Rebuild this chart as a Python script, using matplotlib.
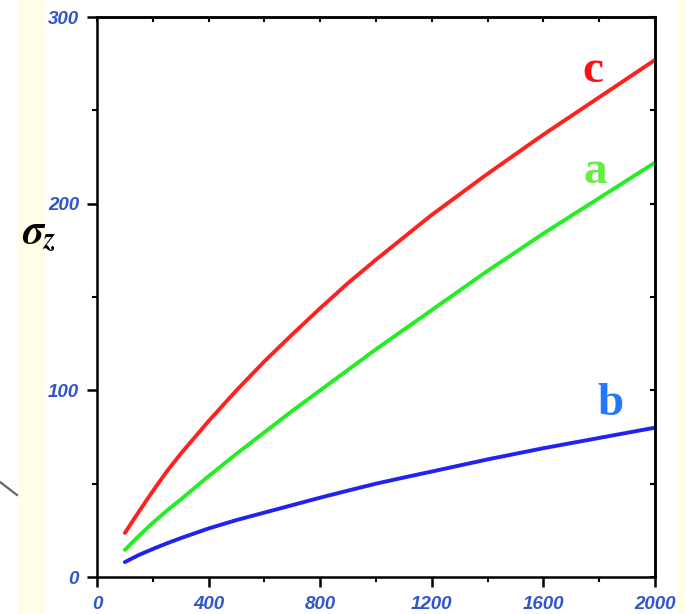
import matplotlib.pyplot as plt
from matplotlib.lines import Line2D
from matplotlib.patches import Rectangle
from matplotlib.ticker import MultipleLocator

plt.rcParams['mathtext.fontset'] = 'stix'

distance = [100, 150, 200, 250, 300, 400, 500, 600, 700, 800, 900, 1000, 1100, 1200,
            1400, 1600, 1800, 2000]
sigma_c = [23.6, 35, 46, 56.5, 66, 83.5, 100, 115.5, 130, 144, 157.5, 170, 182, 194,
           216, 237, 257, 277]
sigma_a = [14.5, 22, 29, 35.5, 41.5, 54, 66, 77.5, 89, 100, 111, 122, 132.5, 143,
           164, 184, 203, 222]
sigma_b = [8, 11.8, 15, 18, 20.8, 26, 30.5, 34.5, 38.5, 42.5, 46.3, 50, 53.3, 56.5,
           63, 69, 74.5, 80]

curve_labels = ['c', 'a', 'b']
curve_colors = ['#ff2020', '#22ee22', '#2222ee']
label_colors = ['#ff1010', '#66ee44', '#2277ff']
label_pos = [(1778, 265), (1785, 211), (1839, 87)]

W, H = 685, 614
fig = plt.figure(figsize=(W / 100, H / 100), dpi=100)
fig.patch.set_facecolor('white')

# cream strips of the scanned page
fig.patches.append(Rectangle((18 / W, 0), 27 / W, 1, transform=fig.transFigure,
                             facecolor='#fffde6', edgecolor='none', zorder=-1))
fig.patches.append(Rectangle((677 / W, 0), 8 / W, 1, transform=fig.transFigure,
                             facecolor='#fffde6', edgecolor='none', zorder=-1))
fig.lines.append(Line2D([0, 17 / W], [1 - 482 / H, 1 - 495 / H], transform=fig.transFigure,
                        color='#666666', lw=1.6))

ax = fig.add_axes([97 / W, 1 - 577 / H, 558 / W, 560 / H])
for y, col in zip([sigma_c, sigma_a, sigma_b], curve_colors):
    ax.plot(distance, y, color=col, lw=2.8, solid_capstyle='round', solid_joinstyle='round')

for lab, col, (x, y) in zip(curve_labels, label_colors, label_pos):
    ax.text(x, y, lab, color=col, fontsize=34, fontweight='bold',
            family='Liberation Serif', ha='center', va='baseline')

ax.set_xlim(0, 2000)
ax.set_ylim(0, 300)
ax.set_xticks([0, 400, 800, 1200, 1600, 2000])
ax.set_yticks([0, 100, 200, 300])
ax.xaxis.set_minor_locator(MultipleLocator(200))
ax.yaxis.set_minor_locator(MultipleLocator(50))
for s in ax.spines.values():
    s.set_linewidth(1.8)

ax.tick_params(which='major', direction='out', length=7, width=1.8, pad=6)
ax.tick_params(which='minor', direction='out', length=3.5, width=1.5)
ax.tick_params(axis='x', pad=7)
for lbl in ax.get_xticklabels() + ax.get_yticklabels():
    lbl.set_fontsize(13.5)
    lbl.set_fontweight('bold')
    lbl.set_fontstyle('italic')
    lbl.set_color('#3355cc')
    lbl.set_family('Liberation Sans')

top = ax.secondary_xaxis('top')
top.set_xticks([0, 400, 800, 1200, 1600, 2000])
top.xaxis.set_minor_locator(MultipleLocator(200))
top.tick_params(which='both', direction='in', length=3.5, width=1.5, labeltop=False)
right = ax.secondary_yaxis('right')
right.set_yticks([0, 100, 200, 300])
right.yaxis.set_minor_locator(MultipleLocator(50))
right.tick_params(which='both', direction='in', length=3.5, width=1.5, labelright=False)
for sec in (top, right):
    for s in sec.spines.values():
        s.set_linewidth(1.8)

fig.text(22 / W, 1 - 243 / H, r'$\boldsymbol{\sigma}_{\boldsymbol{z}}$', fontsize=30,
         ha='left', va='baseline')

fig.savefig('out.png', dpi=100, facecolor=fig.get_facecolor())
